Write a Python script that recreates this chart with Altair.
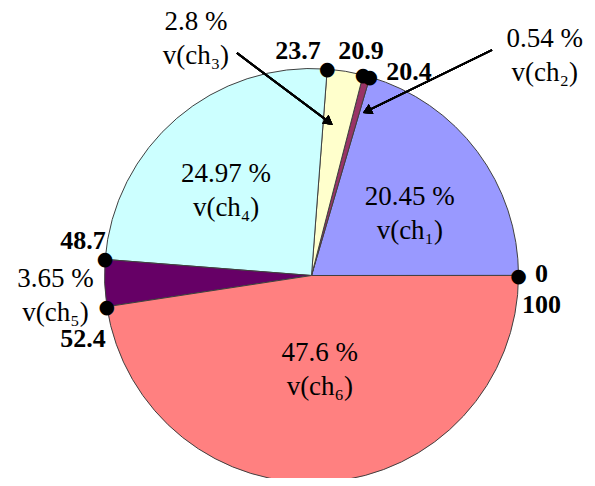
import math
import altair as alt
import pandas as pd

# ---- data ----
channels = ["ch1", "ch2", "ch3", "ch4", "ch5", "ch6"]
shares = [20.45, 0.54, 2.8, 24.97, 3.65, 47.6]
colors = ["#9999ff", "#993366", "#ffffcc", "#ccffff", "#660066", "#ff8080"]
pct_labels = ["20.45 %", "0.54 %", "2.8 %", "24.97 %", "3.65 %", "47.6 %"]
name_labels = ["v(ch₁)", "v(ch₂)", "v(ch₃)", "v(ch₄)", "v(ch₅)", "v(ch₆)"]
label_theta = [10.75, 12.6, 31.8, 36.1, 50.2, 76.7]
label_radius = [126, 332, 279, 133, 256, 78]

boundary_texts = ["0", "100", "20.4", "20.9", "23.7", "48.7", "52.4"]
boundary_text_theta = [0.1, 97.97, 17.9, 21.55, 25.95, 47.6, 54.3]
boundary_text_radius = [230, 232, 226, 230, 225, 231, 237]

R = 207

# ---- tables ----
ends = []
acc = 0.0
for s in shares:
    acc += s
    ends.append(acc)
starts = [0.0] + ends[:-1]

slices = pd.DataFrame({
    "channel": channels, "start": starts, "end": ends,
})
labels = pd.DataFrame({
    "text": [f"{p}\n{n}" for p, n in zip(pct_labels, name_labels)],
    "t": label_theta, "r": label_radius,
})
dots = pd.DataFrame({"t": starts, "r": [R] * len(starts)})
btexts = pd.DataFrame({"text": boundary_texts, "t": boundary_text_theta,
                       "r": boundary_text_radius})

theta_scale = alt.Scale(domain=[0, 100], range=[math.pi / 2, math.pi / 2 - 2 * math.pi])

pie = alt.Chart(slices).mark_arc(outerRadius=R, stroke="#404040", strokeWidth=1).encode(
    theta=alt.Theta("start:Q", scale=theta_scale, stack=False),
    theta2="end:Q",
    color=alt.Color("channel:N", scale=alt.Scale(domain=channels, range=colors), legend=None),
)

slice_text = alt.Chart(labels).mark_text(
    font="Liberation Serif", fontSize=27, lineHeight=34, lineBreak="\n", color="black",
    align="center", baseline="middle",
).encode(
    theta=alt.Theta("t:Q", scale=theta_scale, stack=False),
    radius=alt.Radius("r:Q", scale=None),
    text="text:N",
)

dot_marks = alt.Chart(dots).mark_text(
    text="●", font="DejaVu Sans", fontSize=19, color="black",
    align="center", baseline="middle",
).encode(
    theta=alt.Theta("t:Q", scale=theta_scale, stack=False),
    radius=alt.Radius("r:Q", scale=None),
)

bound_text = alt.Chart(btexts).mark_text(
    font="Liberation Serif", fontSize=26, fontWeight="bold", color="black",
    align="center", baseline="middle",
).encode(
    theta=alt.Theta("t:Q", scale=theta_scale, stack=False),
    radius=alt.Radius("r:Q", scale=None),
    text="text:N",
)

# arrows (annotation)
arrow1 = alt.Chart(slices).mark_rule(color="black", strokeWidth=1.8).encode(
    x=alt.value(201), y=alt.value(-20), x2=alt.value(293), y2=alt.value(49))
head1 = alt.Chart(slices).mark_point(shape="triangle-right", filled=True, color="black",
                                     opacity=1, size=110, angle=36.9).encode(
    x=alt.value(293), y=alt.value(49))
arrow2 = alt.Chart(slices).mark_rule(color="black", strokeWidth=1.8).encode(
    x=alt.value(456), y=alt.value(-23), x2=alt.value(331), y2=alt.value(38))
head2 = alt.Chart(slices).mark_point(shape="triangle-right", filled=True, color="black",
                                     opacity=1, size=110, angle=154).encode(
    x=alt.value(331), y=alt.value(38))

chart = alt.layer(pie, slice_text, arrow1, head1, arrow2, head2, dot_marks, bound_text).properties(
    width=551, height=405,
    padding={"left": 28, "top": 65, "right": 0, "bottom": 0},
    autosize=alt.AutoSizeParams(type="none"),
).configure_view(strokeOpacity=0)

chart.save("out.html", embed_options={"renderer": "svg", "actions": False})
